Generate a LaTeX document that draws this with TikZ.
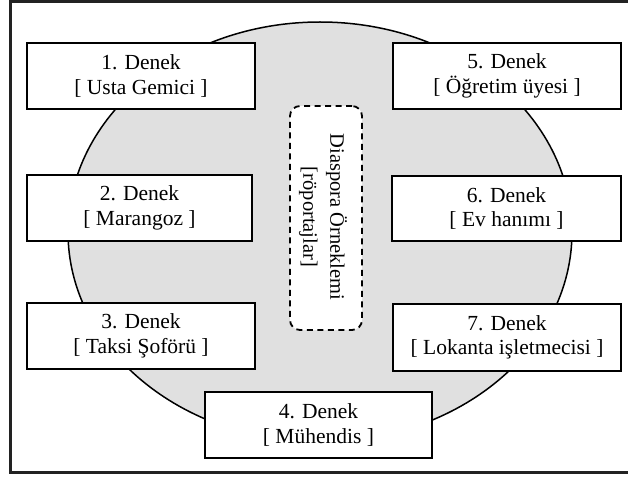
\documentclass[tikz,border=0pt]{standalone}
\usepackage{fontspec}
\setmainfont{Liberation Serif}
\usetikzlibrary{shapes.geometric}
\definecolor{framecol}{HTML}{222222}
\definecolor{ellfill}{HTML}{E0E0E0}
\tikzset{
  denek/.style={draw=black, line width=1.8pt, fill=white, rectangle,
    minimum width=228pt, minimum height=66pt, inner sep=0pt, align=center,
    font=\fontsize{21.5}{24.5}\selectfont},
  dashbox/.style={draw=black, line width=1.8pt, fill=white, rounded corners=10pt,
    dash pattern=on 6pt off 4.5pt, minimum width=72pt, minimum height=224pt, inner sep=0pt},
}
\begin{document}
\begin{tikzpicture}[x=1pt,y=-1pt]
\useasboundingbox (0,0) rectangle (628,476);
\fill[white] (0,0) rectangle (628,476);
% outer frame
\draw[framecol, line width=3pt] (10.5,1.5) rectangle (640,472);
% ellipse
\node[ellipse, draw=black, line width=1.5pt, fill=ellfill, minimum width=504pt,
  minimum height=420pt, inner sep=0pt] (ell) at (320,232) {};
% dashed central box
\node[dashbox] (center) at (326,218) {};
\node[rotate=-90, align=center, font=\fontsize{20.5}{27}\selectfont] (ctext) at (323,217)
  {Diaspora Örneklemi\\{[}röportajlar{]}};
% subject boxes
\node[denek] (d1) at (141,76) {1. Denek\\{[} Usta Gemici {]}};
\node[denek, minimum width=225pt] (d2) at (139.5,208) {2. Denek\\{[} Marangoz {]}};
\node[denek] (d3) at (141,336) {3. Denek\\{[} Taksi Şoförü {]}};
\node[denek, minimum width=227pt] (d4) at (318.5,425) {4. Denek\\{[} Mühendis {]}};
\node[denek] (d5) at (507,76) {5. Denek\\{[} Öğretim üyesi {]}};
\node[denek, minimum width=229pt, minimum height=65pt] (d6) at (506.5,208.5) {6. Denek\\{[} Ev hanımı {]}};
\node[denek, minimum height=67pt] (d7) at (507,337.5) {7. Denek\\{[} Lokanta işletmecisi {]}};
\end{tikzpicture}
\end{document}
